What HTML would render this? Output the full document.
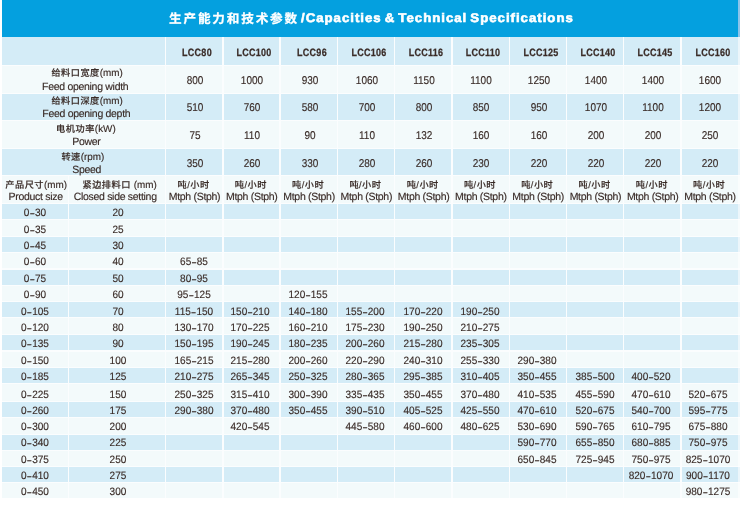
<!DOCTYPE html>
<html lang="zh"><head><meta charset="utf-8"><title>Capacities &amp; Technical Specifications</title><style>
html,body{margin:0;padding:0;background:#fff;}
body{width:741px;height:506px;position:relative;overflow:hidden;text-rendering:geometricPrecision;font-family:"Liberation Sans","Noto Sans CJK SC",sans-serif;color:#3a2c28;}
#w{position:absolute;left:0;top:0;width:741px;height:506px;overflow:hidden;}
#w div{position:absolute;}
.t{line-height:12px;height:12px;width:200px;text-align:center;white-space:nowrap;-webkit-text-stroke:0.15px #3a2c28;}
.d{font-size:10.7px;transform:scaleX(0.94);}
.d i{font-style:normal;font-weight:bold;font-size:8.8px;margin:0 0.5px;line-height:0;}
.v{font-size:11.3px;transform:scaleX(0.885);}
.n{font-size:10.5px;letter-spacing:-0.3px;}
.z{font-size:9.9px;}
.zh{font-size:9.2px;letter-spacing:0.5px;font-weight:500;}
.b{font-weight:bold;font-size:10.6px;letter-spacing:0.3px;transform:scaleX(0.85);-webkit-text-stroke:0.25px #3a2c28;}
.title{color:#fff;font-weight:bold;white-space:nowrap;line-height:20px;height:20px;}
.tc{font-size:12.6px;letter-spacing:1.85px;-webkit-text-stroke:0.25px #fff;}
.te{font-size:12.5px;letter-spacing:0.92px;word-spacing:-1.5px;-webkit-text-stroke:0.6px #fff;transform:scaleX(1.06);transform-origin:0 50%;}
</style></head><body><div id="w">
<div style="left:2.00px;top:0.00px;width:736.30px;height:37.00px;background:#04a0df"></div>
<div style="left:738.30px;top:0.00px;width:1.70px;height:37.00px;background:#8cc4ea"></div>
<div style="left:2.00px;top:37.00px;width:738.00px;height:460.80px;background:#f3fafb"></div>
<div style="left:2.00px;top:37.00px;width:738.00px;height:28.30px;background:#d4ecf7"></div>
<div style="left:2.00px;top:93.90px;width:738.00px;height:26.00px;background:#d4ecf7"></div>
<div style="left:2.00px;top:148.90px;width:738.00px;height:26.20px;background:#d4ecf7"></div>
<div style="left:2.00px;top:204.00px;width:738.00px;height:15.00px;background:#d4ecf7"></div>
<div style="left:2.00px;top:236.80px;width:738.00px;height:15.00px;background:#d4ecf7"></div>
<div style="left:2.00px;top:270.00px;width:738.00px;height:14.80px;background:#d4ecf7"></div>
<div style="left:2.00px;top:302.20px;width:738.00px;height:15.30px;background:#d4ecf7"></div>
<div style="left:2.00px;top:335.20px;width:738.00px;height:14.80px;background:#d4ecf7"></div>
<div style="left:2.00px;top:368.00px;width:738.00px;height:15.00px;background:#d4ecf7"></div>
<div style="left:2.00px;top:401.80px;width:738.00px;height:15.00px;background:#d4ecf7"></div>
<div style="left:2.00px;top:434.00px;width:738.00px;height:15.80px;background:#d4ecf7"></div>
<div style="left:2.00px;top:467.40px;width:738.00px;height:14.60px;background:#d4ecf7"></div>
<div style="left:2.00px;top:64.90px;width:738.00px;height:1.20px;background:#fbfdfe"></div>
<div style="left:2.00px;top:92.50px;width:738.00px;height:1.20px;background:#fbfdfe"></div>
<div style="left:2.00px;top:119.90px;width:738.00px;height:1.20px;background:#fbfdfe"></div>
<div style="left:2.00px;top:147.70px;width:738.00px;height:1.20px;background:#fbfdfe"></div>
<div style="left:2.00px;top:175.10px;width:738.00px;height:1.20px;background:#fbfdfe"></div>
<div style="left:2.00px;top:202.80px;width:738.00px;height:1.20px;background:#fbfdfe"></div>
<div style="left:2.00px;top:219.00px;width:738.00px;height:1.20px;background:#fbfdfe"></div>
<div style="left:2.00px;top:235.60px;width:738.00px;height:1.20px;background:#fbfdfe"></div>
<div style="left:2.00px;top:251.80px;width:738.00px;height:1.20px;background:#fbfdfe"></div>
<div style="left:2.00px;top:268.40px;width:738.00px;height:1.20px;background:#fbfdfe"></div>
<div style="left:2.00px;top:284.60px;width:738.00px;height:1.20px;background:#fbfdfe"></div>
<div style="left:2.00px;top:301.30px;width:738.00px;height:1.20px;background:#fbfdfe"></div>
<div style="left:2.00px;top:317.20px;width:738.00px;height:1.20px;background:#fbfdfe"></div>
<div style="left:2.00px;top:334.10px;width:738.00px;height:1.20px;background:#fbfdfe"></div>
<div style="left:2.00px;top:350.40px;width:738.00px;height:1.20px;background:#fbfdfe"></div>
<div style="left:2.00px;top:367.00px;width:738.00px;height:1.20px;background:#fbfdfe"></div>
<div style="left:2.00px;top:382.90px;width:738.00px;height:1.20px;background:#fbfdfe"></div>
<div style="left:2.00px;top:401.10px;width:738.00px;height:1.20px;background:#fbfdfe"></div>
<div style="left:2.00px;top:417.10px;width:738.00px;height:1.20px;background:#fbfdfe"></div>
<div style="left:2.00px;top:433.70px;width:738.00px;height:1.20px;background:#fbfdfe"></div>
<div style="left:2.00px;top:449.80px;width:738.00px;height:1.20px;background:#fbfdfe"></div>
<div style="left:2.00px;top:466.00px;width:738.00px;height:1.20px;background:#fbfdfe"></div>
<div style="left:2.00px;top:482.10px;width:738.00px;height:1.20px;background:#fbfdfe"></div>
<div style="left:164.90px;top:37.00px;width:1.40px;height:460.80px;background:#fbfdfe"></div>
<div style="left:222.17px;top:37.00px;width:1.40px;height:460.80px;background:#fbfdfe"></div>
<div style="left:279.44px;top:37.00px;width:1.40px;height:460.80px;background:#fbfdfe"></div>
<div style="left:336.71px;top:37.00px;width:1.40px;height:460.80px;background:#fbfdfe"></div>
<div style="left:393.98px;top:37.00px;width:1.40px;height:460.80px;background:#fbfdfe"></div>
<div style="left:451.25px;top:37.00px;width:1.40px;height:460.80px;background:#fbfdfe"></div>
<div style="left:508.52px;top:37.00px;width:1.40px;height:460.80px;background:#fbfdfe"></div>
<div style="left:565.79px;top:37.00px;width:1.40px;height:460.80px;background:#fbfdfe"></div>
<div style="left:623.06px;top:37.00px;width:1.40px;height:460.80px;background:#fbfdfe"></div>
<div style="left:680.33px;top:37.00px;width:1.40px;height:460.80px;background:#fbfdfe"></div>
<div style="left:738.20px;top:37.00px;width:1.80px;height:460.80px;background:rgba(255,255,255,0.55)"></div>
<div style="left:67.90px;top:175.70px;width:1.20px;height:322.10px;background:#fbfdfe"></div>
<div class="title tc" style="left:169px;top:8.6px">生产能力和技术参数</div>
<div class="title te" style="left:300.5px;top:8px">/Capacities &amp; Technical Specifications</div>
<div class="t b" style="left:97.13px;top:47px">LCC80</div>
<div class="t b" style="left:154.41px;top:47px">LCC100</div>
<div class="t b" style="left:211.67px;top:47px">LCC96</div>
<div class="t b" style="left:268.94px;top:47px">LCC106</div>
<div class="t b" style="left:326.21px;top:47px">LCC116</div>
<div class="t b" style="left:383.49px;top:47px">LCC110</div>
<div class="t b" style="left:440.75px;top:47px">LCC125</div>
<div class="t b" style="left:498.02px;top:47px">LCC140</div>
<div class="t b" style="left:555.29px;top:47px">LCC145</div>
<div class="t b" style="left:612.57px;top:47px">LCC160</div>
<div class="t z" style="left:-12.90px;top:67px"><span class="zh">给料口宽度</span>(mm)</div>
<div class="t n" style="left:-14.80px;top:81px">Feed opening width</div>
<div class="t v" style="left:95.03px;top:75px">800</div>
<div class="t v" style="left:152.31px;top:75px">1000</div>
<div class="t v" style="left:209.57px;top:75px">930</div>
<div class="t v" style="left:266.84px;top:75px">1060</div>
<div class="t v" style="left:324.12px;top:75px">1150</div>
<div class="t v" style="left:381.39px;top:75px">1100</div>
<div class="t v" style="left:438.65px;top:75px">1250</div>
<div class="t v" style="left:495.92px;top:75px">1400</div>
<div class="t v" style="left:553.19px;top:75px">1400</div>
<div class="t v" style="left:610.47px;top:75px">1600</div>
<div class="t z" style="left:-12.90px;top:95px"><span class="zh">给料口深度</span>(mm)</div>
<div class="t n" style="left:-13.70px;top:108px">Feed opening depth</div>
<div class="t v" style="left:95.03px;top:102px">510</div>
<div class="t v" style="left:152.31px;top:102px">760</div>
<div class="t v" style="left:209.57px;top:102px">580</div>
<div class="t v" style="left:266.84px;top:102px">700</div>
<div class="t v" style="left:324.12px;top:102px">800</div>
<div class="t v" style="left:381.39px;top:102px">850</div>
<div class="t v" style="left:438.65px;top:102px">950</div>
<div class="t v" style="left:495.92px;top:102px">1070</div>
<div class="t v" style="left:553.19px;top:102px">1100</div>
<div class="t v" style="left:610.47px;top:102px">1200</div>
<div class="t z" style="left:-14.10px;top:123px"><span class="zh">电机功率</span>(kW)</div>
<div class="t n" style="left:-13.60px;top:136px">Power</div>
<div class="t v" style="left:95.03px;top:130px">75</div>
<div class="t v" style="left:152.31px;top:130px">110</div>
<div class="t v" style="left:209.57px;top:130px">90</div>
<div class="t v" style="left:266.84px;top:130px">110</div>
<div class="t v" style="left:324.12px;top:130px">132</div>
<div class="t v" style="left:381.39px;top:130px">160</div>
<div class="t v" style="left:438.65px;top:130px">160</div>
<div class="t v" style="left:495.92px;top:130px">200</div>
<div class="t v" style="left:553.19px;top:130px">200</div>
<div class="t v" style="left:610.47px;top:130px">250</div>
<div class="t z" style="left:-17.10px;top:151px"><span class="zh">转速</span>(rpm)</div>
<div class="t n" style="left:-13.40px;top:164px">Speed</div>
<div class="t v" style="left:95.03px;top:158px">350</div>
<div class="t v" style="left:152.31px;top:158px">260</div>
<div class="t v" style="left:209.57px;top:158px">330</div>
<div class="t v" style="left:266.84px;top:158px">280</div>
<div class="t v" style="left:324.12px;top:158px">260</div>
<div class="t v" style="left:381.39px;top:158px">230</div>
<div class="t v" style="left:438.65px;top:158px">220</div>
<div class="t v" style="left:495.92px;top:158px">220</div>
<div class="t v" style="left:553.19px;top:158px">220</div>
<div class="t v" style="left:610.47px;top:158px">220</div>
<div class="t z" style="left:-63.80px;top:179px"><span class="zh">产品尺寸</span>(mm)</div>
<div class="t n" style="left:-64.40px;top:191px">Product size</div>
<div class="t z" style="left:19.60px;top:179px"><span class="zh">紧边排料口</span> (mm)</div>
<div class="t n" style="left:15.20px;top:191px">Closed side setting</div>
<div class="t z" style="left:93.63px;top:179px"><span class="zh">吨/小时</span></div>
<div class="t n" style="left:94.53px;top:191px">Mtph (Stph)</div>
<div class="t z" style="left:150.91px;top:179px"><span class="zh">吨/小时</span></div>
<div class="t n" style="left:151.81px;top:191px">Mtph (Stph)</div>
<div class="t z" style="left:208.17px;top:179px"><span class="zh">吨/小时</span></div>
<div class="t n" style="left:209.07px;top:191px">Mtph (Stph)</div>
<div class="t z" style="left:265.44px;top:179px"><span class="zh">吨/小时</span></div>
<div class="t n" style="left:266.34px;top:191px">Mtph (Stph)</div>
<div class="t z" style="left:322.71px;top:179px"><span class="zh">吨/小时</span></div>
<div class="t n" style="left:323.62px;top:191px">Mtph (Stph)</div>
<div class="t z" style="left:379.99px;top:179px"><span class="zh">吨/小时</span></div>
<div class="t n" style="left:380.89px;top:191px">Mtph (Stph)</div>
<div class="t z" style="left:437.25px;top:179px"><span class="zh">吨/小时</span></div>
<div class="t n" style="left:438.15px;top:191px">Mtph (Stph)</div>
<div class="t z" style="left:494.52px;top:179px"><span class="zh">吨/小时</span></div>
<div class="t n" style="left:495.42px;top:191px">Mtph (Stph)</div>
<div class="t z" style="left:551.79px;top:179px"><span class="zh">吨/小时</span></div>
<div class="t n" style="left:552.69px;top:191px">Mtph (Stph)</div>
<div class="t z" style="left:609.07px;top:179px"><span class="zh">吨/小时</span></div>
<div class="t n" style="left:609.97px;top:191px">Mtph (Stph)</div>
<div class="t d" style="left:-64.85px;top:207px">0<i>–</i>30</div>
<div class="t d" style="left:18.25px;top:207px">20</div>
<div class="t d" style="left:-64.85px;top:224px">0<i>–</i>35</div>
<div class="t d" style="left:18.25px;top:224px">25</div>
<div class="t d" style="left:-64.85px;top:240px">0<i>–</i>45</div>
<div class="t d" style="left:18.25px;top:240px">30</div>
<div class="t d" style="left:-64.85px;top:256px">0<i>–</i>60</div>
<div class="t d" style="left:18.25px;top:256px">40</div>
<div class="t d" style="left:93.83px;top:256px">65<i>–</i>85</div>
<div class="t d" style="left:-64.85px;top:273px">0<i>–</i>75</div>
<div class="t d" style="left:18.25px;top:273px">50</div>
<div class="t d" style="left:93.83px;top:273px">80<i>–</i>95</div>
<div class="t d" style="left:-64.85px;top:289px">0<i>–</i>90</div>
<div class="t d" style="left:18.25px;top:289px">60</div>
<div class="t d" style="left:93.83px;top:289px">95<i>–</i>125</div>
<div class="t d" style="left:208.32px;top:289px">120<i>–</i>155</div>
<div class="t d" style="left:-64.85px;top:306px">0<i>–</i>105</div>
<div class="t d" style="left:18.25px;top:306px">70</div>
<div class="t d" style="left:93.83px;top:306px">115<i>–</i>150</div>
<div class="t d" style="left:149.60px;top:306px">150<i>–</i>210</div>
<div class="t d" style="left:208.32px;top:306px">140<i>–</i>180</div>
<div class="t d" style="left:265.34px;top:306px">155<i>–</i>200</div>
<div class="t d" style="left:323.12px;top:306px">170<i>–</i>220</div>
<div class="t d" style="left:379.59px;top:306px">190<i>–</i>250</div>
<div class="t d" style="left:-64.85px;top:322px">0<i>–</i>120</div>
<div class="t d" style="left:18.25px;top:322px">80</div>
<div class="t d" style="left:93.83px;top:322px">130<i>–</i>170</div>
<div class="t d" style="left:149.60px;top:322px">170<i>–</i>225</div>
<div class="t d" style="left:208.32px;top:322px">160<i>–</i>210</div>
<div class="t d" style="left:265.34px;top:322px">175<i>–</i>230</div>
<div class="t d" style="left:323.12px;top:322px">190<i>–</i>250</div>
<div class="t d" style="left:379.59px;top:322px">210<i>–</i>275</div>
<div class="t d" style="left:-64.85px;top:338px">0<i>–</i>135</div>
<div class="t d" style="left:18.25px;top:338px">90</div>
<div class="t d" style="left:93.83px;top:338px">150<i>–</i>195</div>
<div class="t d" style="left:149.60px;top:338px">190<i>–</i>245</div>
<div class="t d" style="left:208.32px;top:338px">180<i>–</i>235</div>
<div class="t d" style="left:265.34px;top:338px">200<i>–</i>260</div>
<div class="t d" style="left:323.12px;top:338px">215<i>–</i>280</div>
<div class="t d" style="left:379.59px;top:338px">235<i>–</i>305</div>
<div class="t d" style="left:-64.85px;top:355px">0<i>–</i>150</div>
<div class="t d" style="left:18.25px;top:355px">100</div>
<div class="t d" style="left:93.83px;top:355px">165<i>–</i>215</div>
<div class="t d" style="left:149.60px;top:355px">215<i>–</i>280</div>
<div class="t d" style="left:208.32px;top:355px">200<i>–</i>260</div>
<div class="t d" style="left:265.34px;top:355px">220<i>–</i>290</div>
<div class="t d" style="left:323.12px;top:355px">240<i>–</i>310</div>
<div class="t d" style="left:379.59px;top:355px">255<i>–</i>330</div>
<div class="t d" style="left:437.21px;top:355px">290<i>–</i>380</div>
<div class="t d" style="left:-64.85px;top:371px">0<i>–</i>185</div>
<div class="t d" style="left:18.25px;top:371px">125</div>
<div class="t d" style="left:93.83px;top:371px">210<i>–</i>275</div>
<div class="t d" style="left:149.60px;top:371px">265<i>–</i>345</div>
<div class="t d" style="left:208.32px;top:371px">250<i>–</i>325</div>
<div class="t d" style="left:265.34px;top:371px">280<i>–</i>365</div>
<div class="t d" style="left:323.12px;top:371px">295<i>–</i>385</div>
<div class="t d" style="left:379.59px;top:371px">310<i>–</i>405</div>
<div class="t d" style="left:437.21px;top:371px">350<i>–</i>455</div>
<div class="t d" style="left:494.83px;top:371px">385<i>–</i>500</div>
<div class="t d" style="left:550.89px;top:371px">400<i>–</i>520</div>
<div class="t d" style="left:-64.85px;top:389px">0<i>–</i>225</div>
<div class="t d" style="left:18.25px;top:389px">150</div>
<div class="t d" style="left:93.83px;top:389px">250<i>–</i>325</div>
<div class="t d" style="left:149.60px;top:389px">315<i>–</i>410</div>
<div class="t d" style="left:208.32px;top:389px">300<i>–</i>390</div>
<div class="t d" style="left:265.34px;top:389px">335<i>–</i>435</div>
<div class="t d" style="left:323.12px;top:389px">350<i>–</i>455</div>
<div class="t d" style="left:379.59px;top:389px">370<i>–</i>480</div>
<div class="t d" style="left:437.21px;top:389px">410<i>–</i>535</div>
<div class="t d" style="left:494.83px;top:389px">455<i>–</i>590</div>
<div class="t d" style="left:550.89px;top:389px">470<i>–</i>610</div>
<div class="t d" style="left:608.12px;top:389px">520<i>–</i>675</div>
<div class="t d" style="left:-64.85px;top:405px">0<i>–</i>260</div>
<div class="t d" style="left:18.25px;top:405px">175</div>
<div class="t d" style="left:93.83px;top:405px">290<i>–</i>380</div>
<div class="t d" style="left:149.60px;top:405px">370<i>–</i>480</div>
<div class="t d" style="left:208.32px;top:405px">350<i>–</i>455</div>
<div class="t d" style="left:265.34px;top:405px">390<i>–</i>510</div>
<div class="t d" style="left:323.12px;top:405px">405<i>–</i>525</div>
<div class="t d" style="left:379.59px;top:405px">425<i>–</i>550</div>
<div class="t d" style="left:437.21px;top:405px">470<i>–</i>610</div>
<div class="t d" style="left:494.83px;top:405px">520<i>–</i>675</div>
<div class="t d" style="left:550.89px;top:405px">540<i>–</i>700</div>
<div class="t d" style="left:608.12px;top:405px">595<i>–</i>775</div>
<div class="t d" style="left:-64.85px;top:421px">0<i>–</i>300</div>
<div class="t d" style="left:18.25px;top:421px">200</div>
<div class="t d" style="left:149.60px;top:421px">420<i>–</i>545</div>
<div class="t d" style="left:265.34px;top:421px">445<i>–</i>580</div>
<div class="t d" style="left:323.12px;top:421px">460<i>–</i>600</div>
<div class="t d" style="left:379.59px;top:421px">480<i>–</i>625</div>
<div class="t d" style="left:437.21px;top:421px">530<i>–</i>690</div>
<div class="t d" style="left:494.83px;top:421px">590<i>–</i>765</div>
<div class="t d" style="left:550.89px;top:421px">610<i>–</i>795</div>
<div class="t d" style="left:608.12px;top:421px">675<i>–</i>880</div>
<div class="t d" style="left:-64.85px;top:437px">0<i>–</i>340</div>
<div class="t d" style="left:18.25px;top:437px">225</div>
<div class="t d" style="left:437.21px;top:437px">590<i>–</i>770</div>
<div class="t d" style="left:494.83px;top:437px">655<i>–</i>850</div>
<div class="t d" style="left:550.89px;top:437px">680<i>–</i>885</div>
<div class="t d" style="left:608.12px;top:437px">750<i>–</i>975</div>
<div class="t d" style="left:-64.85px;top:454px">0<i>–</i>375</div>
<div class="t d" style="left:18.25px;top:454px">250</div>
<div class="t d" style="left:437.21px;top:454px">650<i>–</i>845</div>
<div class="t d" style="left:494.83px;top:454px">725<i>–</i>945</div>
<div class="t d" style="left:550.89px;top:454px">750<i>–</i>975</div>
<div class="t d" style="left:608.12px;top:454px">825<i>–</i>1070</div>
<div class="t d" style="left:-64.85px;top:470px">0<i>–</i>410</div>
<div class="t d" style="left:18.25px;top:470px">275</div>
<div class="t d" style="left:550.89px;top:470px">820<i>–</i>1070</div>
<div class="t d" style="left:608.12px;top:470px">900<i>–</i>1170</div>
<div class="t d" style="left:-64.85px;top:486px">0<i>–</i>450</div>
<div class="t d" style="left:18.25px;top:486px">300</div>
<div class="t d" style="left:608.12px;top:486px">980<i>–</i>1275</div>
</div></body></html>
